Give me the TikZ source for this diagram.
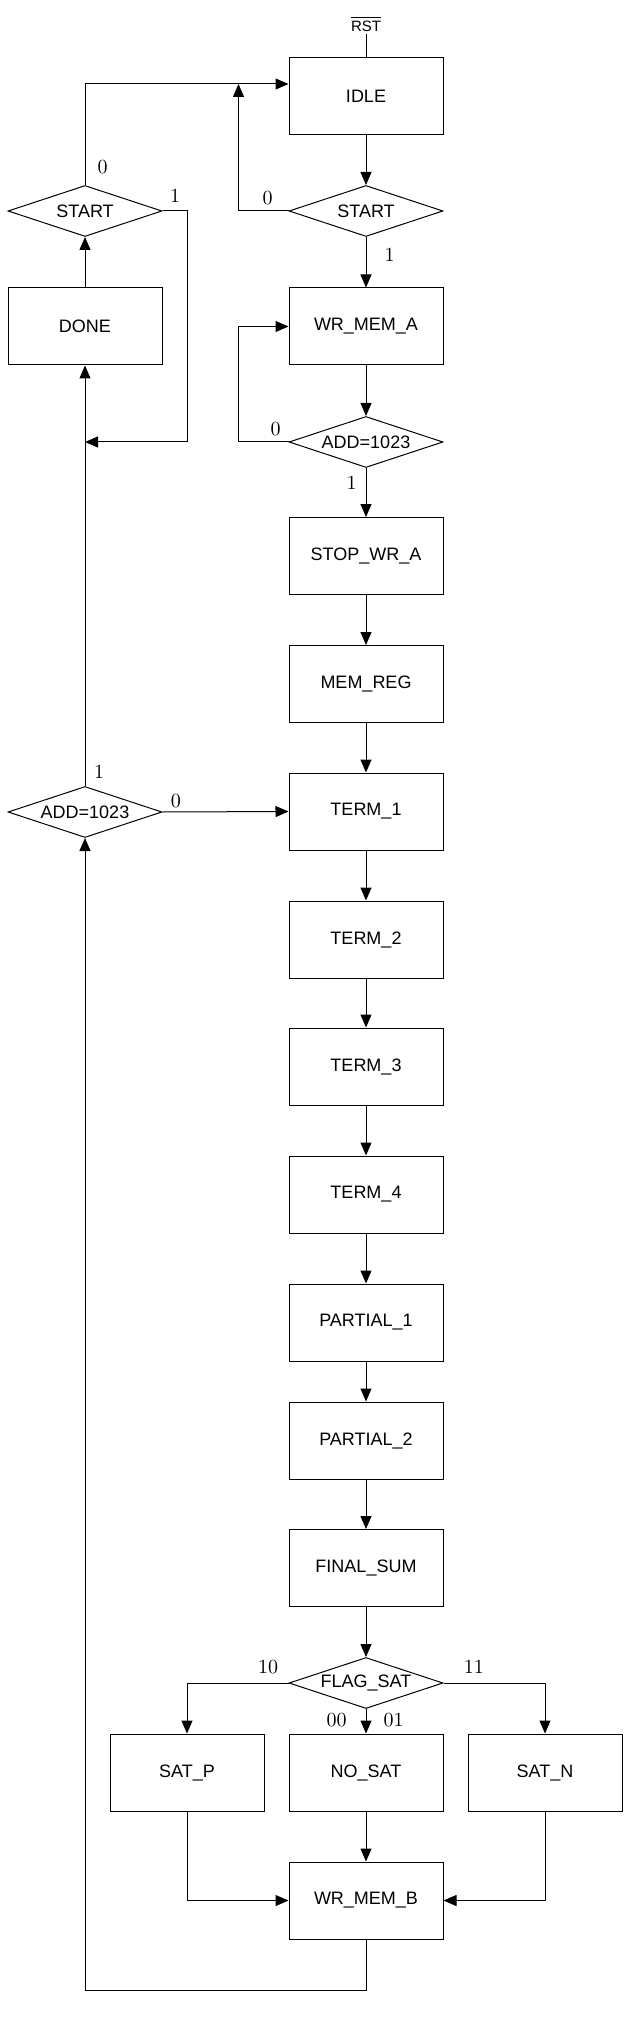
\documentclass[tikz,border=0pt]{standalone}
\usepackage{fontspec}
\newfontfamily\boxfont{Liberation Sans}
\usetikzlibrary{shapes.geometric,arrows.meta}

\begin{document}
\begin{tikzpicture}[x = 0.5pt, y = -0.5pt, line width = 0.5pt,
    state/.style = {draw, rectangle, minimum width = 77pt, minimum height = 38.5pt, inner sep = 0pt, font = \boxfont\fontsize{9}{11}\selectfont},
    test/.style = {draw, diamond, aspect = 3, minimum width = 77pt, minimum height = 25.5pt, inner sep = 0pt, font = \boxfont\fontsize{9}{11}\selectfont},
    flow/.style = {-{Triangle[length = 6.5pt, width = 5.5pt]}},
    bit/.style = {inner sep = 1pt, font = \normalsize}]
    \useasboundingbox (0,0) rectangle (632,2032);
    % main column
    \node[inner sep = 1pt, font = \boxfont\fontsize{7.5}{9}\selectfont] (rst) at (366,24) {$\overline{\mbox{RST}}$};
    \node[state] (idle) at (366,96.5) {IDLE};
    \node[test] (startR) at (366,211) {START};
    \node[state] (wrmema) at (366,326.5) {WR\_MEM\_A};
    \node[test] (addR) at (366,442) {ADD=1023};
    \node[state] (stopwra) at (366,556) {STOP\_WR\_A};
    \node[state] (memreg) at (366,684) {MEM\_REG};
    \node[state] (term1) at (366,811.5) {TERM\_1};
    \node[state] (term2) at (366,939.5) {TERM\_2};
    \node[state] (term3) at (366,1066.5) {TERM\_3};
    \node[state] (term4) at (366,1194.5) {TERM\_4};
    \node[state] (partial1) at (366,1322.5) {PARTIAL\_1};
    \node[state] (partial2) at (366,1440.5) {PARTIAL\_2};
    \node[state] (finalsum) at (366,1568) {FINAL\_SUM};
    \node[test] (flagsat) at (366,1683) {FLAG\_SAT};
    \node[state] (satp) at (187,1772.5) {SAT\_P};
    \node[state] (nosat) at (366,1772.5) {NO\_SAT};
    \node[state] (satn) at (545,1772.5) {SAT\_N};
    \node[state] (wrmemb) at (366,1900.5) {WR\_MEM\_B};
    % left column
    \node[test] (startL) at (85,211) {START};
    \node[state] (done) at (85,326.5) {DONE};
    \node[test] (addL) at (85,812) {ADD=1023};
    % bends
    \coordinate (idlein) at ([yshift = 6.25pt]idle.west);
    \coordinate (join) at ([xshift = -25pt]idlein);
    \coordinate (doneret) at (done |- addR);
    \coordinate (bottom) at ([yshift = -25.5pt]wrmemb.south);

    \draw (rst) -- (idle);
    \draw[flow] (idle) -- (startR);
    \draw[flow] (startR) -- node[bit, pos = 0.35, right = 8pt] {$1$} (wrmema);
    \draw[flow] (startR.west) -| node[bit, pos = 0.21, above = 2pt] {$0$} (join);
    \draw[flow] (startL.north) |- node[bit, pos = 0.09, right = 5pt] {$0$} (idlein);
    \draw[flow] (startL.east) -- node[bit, pos = 0.5, above = 3pt] {$1$} ++(25,0) |- (doneret);
    \draw[flow] (done) -- (startL);
    \draw[flow] (addL) -- node[bit, pos = 0.033, right = 3.3pt] {$1$} (done);
    \draw[flow] (wrmema) -- (addR);
    \draw[flow] (addR.west) -- node[bit, pos = 0.26, above = 2pt] {$0$} ++(-50,0) |- (wrmema.west);
    \draw[flow] (addR) -- node[bit, pos = 0.31, left = 3.5pt] {$1$} (stopwra);
    \foreach \from/\to in {stopwra/memreg, memreg/term1, term1/term2, term2/term3, term3/term4,
        term4/partial1, partial1/partial2, partial2/finalsum, finalsum/flagsat, nosat/wrmemb}
        \draw[flow] (\from) -- (\to);
    \draw[flow] (addL.east) -- node[bit, pos = 0.107, above = 1pt] {$0$} (term1.west);
    % saturation
    \draw[flow] (flagsat.west) -| node[bit, pos = 0.1, above = 3.5pt] {$10$} (satp.north);
    \draw[flow] (flagsat.east) -| node[bit, pos = 0.15, above = 3.5pt] {$11$} (satn.north);
    \draw[flow] (flagsat) -- node[bit, pos = 0.44, left = 8.5pt] {$00$} node[bit, pos = 0.46, right = 7.5pt] {$01$} (nosat);
    \draw[flow] (satp.south) |- (wrmemb.west);
    \draw[flow] (satn.south) |- (wrmemb.east);
    \draw[flow] (wrmemb.south) -- (bottom) -| (addL.south);
\end{tikzpicture}
\end{document}
